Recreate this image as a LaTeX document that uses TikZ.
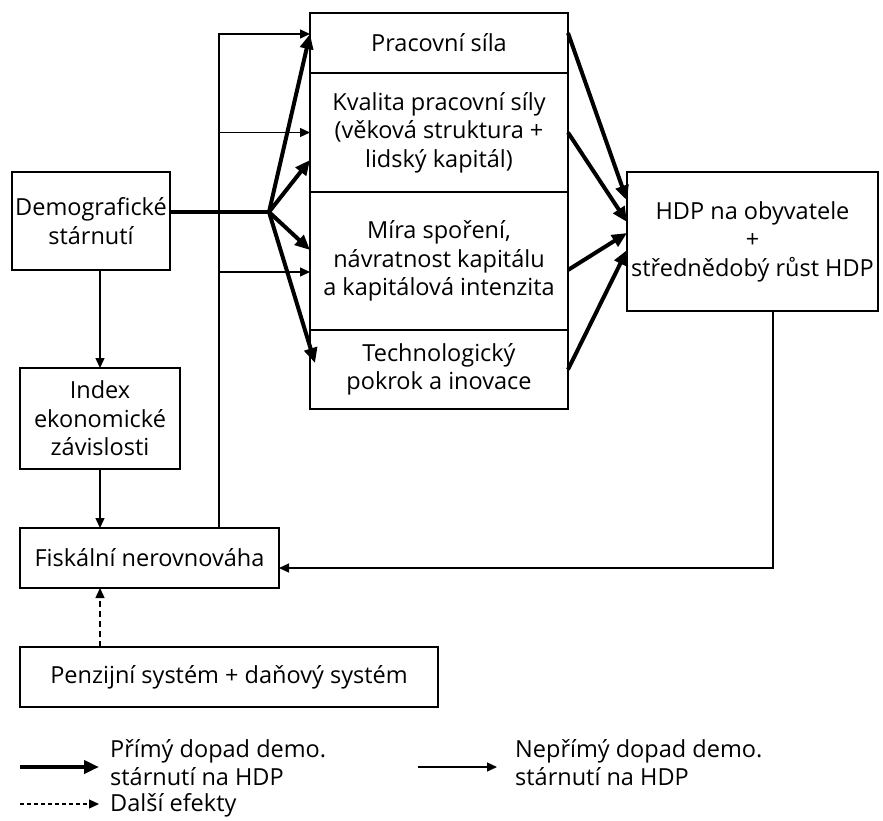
\documentclass[tikz,border=0pt]{standalone}
\usepackage{fontspec}
\setmainfont{Open Sans}
\usetikzlibrary{arrows.meta,positioning}
\begin{document}
\begin{tikzpicture}[x=1pt,y=-1pt,
  box/.style={draw,line width=1.3pt,align=center,inner sep=0pt,outer sep=0pt,font=\fontsize{23.5}{28.5}\selectfont},
  dir/.style={line width=4pt,-{Triangle[length=15pt,width=13pt]}},
  ind/.style={line width=1.3pt,-{Triangle[length=10pt,width=9pt]}},
  oth/.style={ind,dash pattern=on 6pt off 4pt},
  legend/.style={anchor=west,align=left,inner sep=0pt,font=\fontsize{23.5}{28.5}\selectfont}]
\useasboundingbox (0,0) rectangle (883,821);
\node[box,minimum width=158pt,minimum height=98pt] (demo) at (91,221) {Demografické\\stárnutí};
\node[box,minimum width=258pt,minimum height=60pt] (prac) at (439,43) {Pracovní síla};
\node[box,minimum width=258pt,minimum height=119pt,below=0pt of prac] (kval) {Kvalita pracovní síly\\(věková struktura +\\lidský kapitál)};
\node[box,minimum width=258pt,minimum height=138pt,below=0pt of kval] (mira) {Míra spoření,\\návratnost kapitálu\\a kapitálová intenzita};
\node[box,minimum width=258pt,minimum height=79pt,below=0pt of mira] (tech) {Technologický\\pokrok a inovace};
\node[box,minimum width=251pt,minimum height=139pt] (hdp) at (752.5,241.5) {HDP na obyvatele\\+\\střednědobý růst HDP};
\node[box,minimum width=160pt,minimum height=101pt] (idx) at (100,418.5) {Index\\ekonomické\\závislosti};
\node[box,minimum width=259pt,minimum height=60pt] (fisk) at (149.5,558) {Fiskální nerovnováha};
\node[box,minimum width=418pt,minimum height=60pt] (penz) at (229,677) {Penzijní systém + daňový systém};
\coordinate (split) at (269,212);
\coordinate (bus) at (219,0);
\coordinate (back) at (773,568);
\coordinate (pracIn) at ([yshift=9pt]prac.west);
\coordinate (miraIn) at ([yshift=-11pt]mira.west);
% direct effects
\draw[line width=4pt] (demo.east |- split) -- (split);
\draw[dir] (split) -- (pracIn);
\draw[dir] (split) -- ([yshift=-27.5pt]kval.west);
\draw[dir] (split) -- ([yshift=11pt]mira.west);
\draw[dir] (split) -- ([xshift=5pt,yshift=6.5pt]tech.west);
\draw[dir] ([yshift=10pt]prac.east) -- ([yshift=41pt]hdp.west);
\draw[dir] (kval.east) -- ([yshift=19.5pt]hdp.west);
\draw[dir] ([yshift=-9pt]mira.east) -- ([yshift=8.5pt]hdp.west);
\draw[dir] (tech.east) -- ([yshift=-8.5pt]hdp.west);
% indirect effects
\draw[ind] (demo.south -| idx.north) -- (idx.north);
\draw[ind] (idx.south) -- (idx.south |- fisk.north);
\draw[ind] (fisk.north -| bus) |- (pracIn);
\draw[ind] (bus |- kval.west) -- (kval.west);
\draw[ind] (bus |- miraIn) -- (miraIn);
\draw[ind] (hdp.south -| back) |- (fisk.east |- back);
\draw[oth] (penz.north -| idx.south) -- (fisk.south -| idx.south);
% legend
\node[legend] (lgdir) at (110,762.5) {Přímý dopad demo.\\stárnutí na HDP};
\node[legend] (lgind) at (515,762.5) {Nepřímý dopad demo.\\stárnutí na HDP};
\node[legend] (lgoth) at (110,805.5) {Další efekty};
\coordinate (a1) at (20,767);
\coordinate (a2) at (418,767);
\coordinate (a3) at (20,804);
\draw[dir] (a1) -- (a1 -| 99,0);
\draw[ind] (a2) -- (a2 -| 497,0);
\draw[oth,dash pattern=on 4pt off 3pt] (a3) -- (a3 -| 99,0);
\end{tikzpicture}
\end{document}
